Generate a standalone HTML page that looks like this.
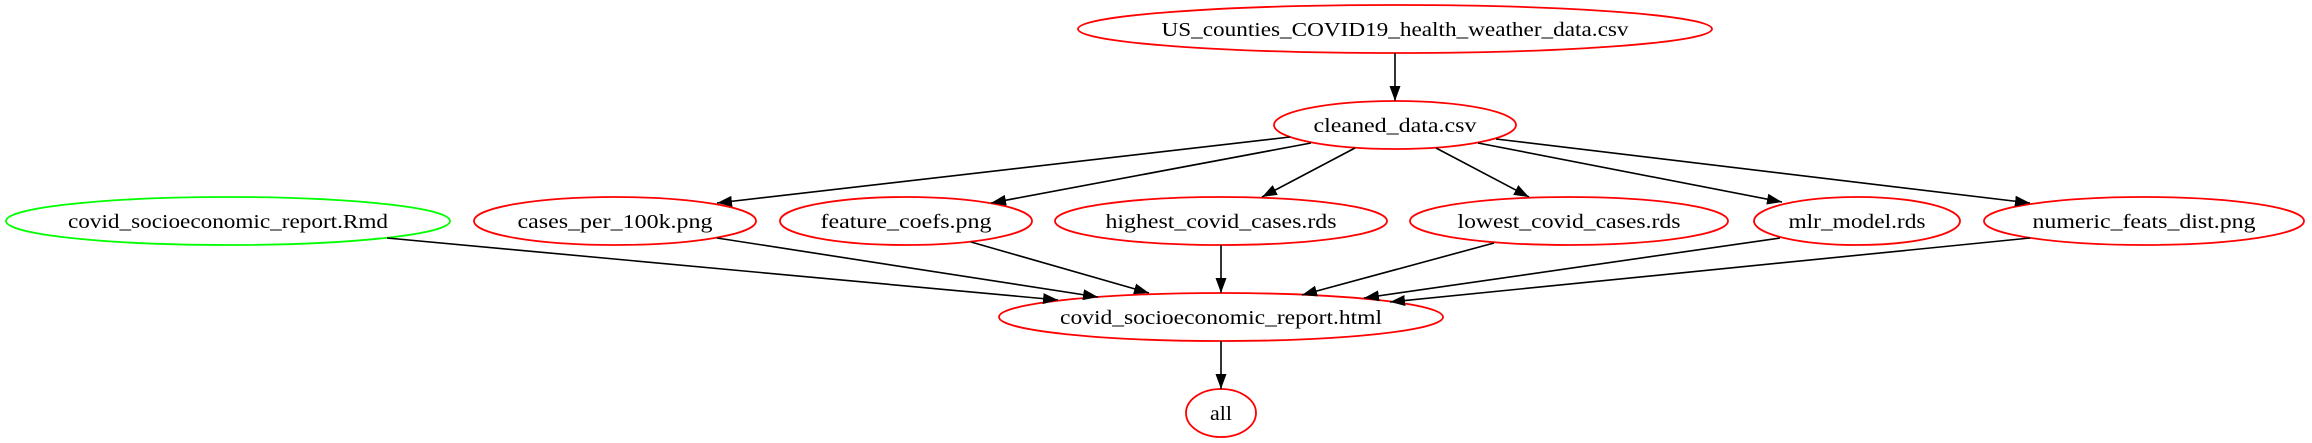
<!DOCTYPE html>
<html><head><meta charset="utf-8"><style>html,body{margin:0;padding:0;background:#fff;}svg{display:block}</style></head>
<body>
<svg width="2312" height="443" viewBox="0 0 2312 443" xmlns="http://www.w3.org/2000/svg">
<defs><marker id="a" markerUnits="userSpaceOnUse" markerWidth="16" markerHeight="12" refX="15" refY="6" orient="auto"><path d="M0,0.5 L15,6 L0,11.5 z" fill="#000"/></marker></defs>
<g fill="none" stroke-width="1.8">
<ellipse cx="1395" cy="29" rx="317" ry="24" stroke="#f00"/>
<ellipse cx="1395" cy="125" rx="121" ry="24" stroke="#f00"/>
<ellipse cx="228" cy="221" rx="222" ry="24" stroke="#0f0"/>
<ellipse cx="615" cy="221" rx="141" ry="24" stroke="#f00"/>
<ellipse cx="906" cy="221" rx="126" ry="24" stroke="#f00"/>
<ellipse cx="1221" cy="221" rx="166" ry="24" stroke="#f00"/>
<ellipse cx="1569" cy="221" rx="159" ry="24" stroke="#f00"/>
<ellipse cx="1857" cy="221" rx="103" ry="24" stroke="#f00"/>
<ellipse cx="2144" cy="221" rx="160" ry="24" stroke="#f00"/>
<ellipse cx="1221" cy="317" rx="222" ry="24" stroke="#f00"/>
<ellipse cx="1221" cy="413" rx="35" ry="24" stroke="#f00"/>
</g>
<g stroke="#000" stroke-width="1.6" marker-end="url(#a)">
<line x1="1395" y1="53" x2="1395" y2="101"/>
<line x1="1290" y1="137" x2="717" y2="203"/>
<line x1="1311" y1="143" x2="991" y2="203"/>
<line x1="1355" y1="148" x2="1262" y2="197"/>
<line x1="1436" y1="148" x2="1529" y2="197"/>
<line x1="1478" y1="143" x2="1782" y2="202"/>
<line x1="1496" y1="139" x2="2030" y2="203"/>
<line x1="387" y1="238" x2="1058" y2="300"/>
<line x1="717" y1="238" x2="1098" y2="297"/>
<line x1="971" y1="242" x2="1149" y2="293"/>
<line x1="1221" y1="245" x2="1221" y2="293"/>
<line x1="1494" y1="243" x2="1302" y2="295"/>
<line x1="1780" y1="238" x2="1364" y2="298"/>
<line x1="2030" y1="238" x2="1390" y2="302"/>
<line x1="1221" y1="341" x2="1221" y2="389"/>
</g>
<g font-family="Liberation Serif, serif" font-size="20" text-anchor="middle" fill="#000" lengthAdjust="spacingAndGlyphs">
<text x="1395" y="36" textLength="467" lengthAdjust="spacingAndGlyphs">US_counties_COVID19_health_weather_data.csv</text>
<text x="1395" y="132" textLength="163" lengthAdjust="spacingAndGlyphs">cleaned_data.csv</text>
<text x="228" y="228" textLength="320" lengthAdjust="spacingAndGlyphs">covid_socioeconomic_report.Rmd</text>
<text x="615" y="228" textLength="195" lengthAdjust="spacingAndGlyphs">cases_per_100k.png</text>
<text x="906" y="228" textLength="171" lengthAdjust="spacingAndGlyphs">feature_coefs.png</text>
<text x="1221" y="228" textLength="231" lengthAdjust="spacingAndGlyphs">highest_covid_cases.rds</text>
<text x="1569" y="228" textLength="223" lengthAdjust="spacingAndGlyphs">lowest_covid_cases.rds</text>
<text x="1857" y="228" textLength="137" lengthAdjust="spacingAndGlyphs">mlr_model.rds</text>
<text x="2144" y="228" textLength="223" lengthAdjust="spacingAndGlyphs">numeric_feats_dist.png</text>
<text x="1221" y="324" textLength="322" lengthAdjust="spacingAndGlyphs">covid_socioeconomic_report.html</text>
<text x="1221" y="420" textLength="22" lengthAdjust="spacingAndGlyphs">all</text>
</g>
</svg>
</body></html>
